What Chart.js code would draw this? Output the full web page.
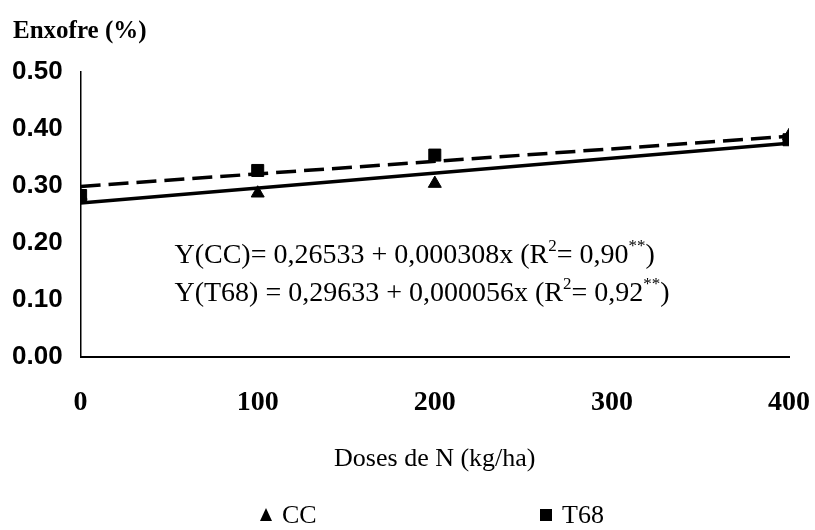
<!DOCTYPE html>
<html>
<head>
<meta charset="utf-8">
<script src="https://cdn.jsdelivr.net/npm/chart.js@4"></script>
<style>
  html, body { margin: 0; padding: 0; background: #fff; }
  #wrap { width: 815px; height: 530px; position: relative; }
</style>
</head>
<body>
<div id="wrap"><canvas id="enxChart"></canvas></div>
<script>
// Doses de N (kg/ha)
const doses = [0, 100, 200, 400];
// teor de enxofre
const ccValues = [0.283, 0.287, 0.304, 0.388];
const t68Values = [0.283, 0.327, 0.354, 0.381];
// retas ajustadas (extremos)
const fitX = [0, 400];
const ccFit = [0.270, 0.375];
const t68Fit = [0.299, 0.387];
const xTicks = [0, 100, 200, 300, 400];
const yTitle = 'Enxofre (%)';
const eqLines = [
  ['Y(CC)= 0,26533 + 0,000308x (R', '2', '= 0,90', '**', ')'],
  ['Y(T68) = 0,29633 + 0,000056x (R', '2', '= 0,92', '**', ')'],
];
const legendItems = [
  { label: 'CC', style: 'triangle' },
  { label: 'T68', style: 'rect' },
];

const serif = '"Liberation Serif", "Times New Roman", serif';
const sans = '"Liberation Sans", Arial, sans-serif';

const toPts = (xs, ys) => xs.map((x, i) => ({ x: x, y: ys[i] }));

const textPlugin = {
  id: 'extraText',
  afterDraw(chart) {
    const ctx = chart.ctx;
    const xs = chart.scales.x, ys = chart.scales.y;
    ctx.save();
    ctx.fillStyle = '#000';
    ctx.textBaseline = 'alphabetic';
    // titulo do eixo y, horizontal no canto
    ctx.font = 'bold 25px ' + serif;
    ctx.fillText(yTitle, 13, 38);
    // equacoes
    const base = [0.1636, 0.0972];
    eqLines.forEach((parts, li) => {
      let px = xs.getPixelForValue(53);
      const py = ys.getPixelForValue(base[li]);
      parts.forEach((p, k) => {
        const sup = k % 2 === 1;
        ctx.font = (sup ? '17px ' : '28px ') + serif;
        ctx.fillText(p, px, sup ? py - 12 : py);
        px += ctx.measureText(p).width;
      });
    });
    // legenda
    const lx = [266, 546];
    ctx.font = '26px ' + serif;
    legendItems.forEach((it, i) => {
      const cx = lx[i], cy = 515;
      ctx.beginPath();
      if (it.style === 'triangle') {
        ctx.moveTo(cx, cy - 7);
        ctx.lineTo(cx + 6, cy + 6);
        ctx.lineTo(cx - 6, cy + 6);
        ctx.closePath();
        ctx.fill();
      } else {
        ctx.fillRect(cx - 6, cy - 6, 12, 12);
      }
      ctx.fillText(it.label, cx + 16, cy + 8);
    });
    ctx.restore();
  }
};

new Chart(document.getElementById('enxChart'), {
  type: 'scatter',
  data: {
    datasets: [
      {
        label: 'CC (reta)',
        type: 'line',
        data: toPts(fitX, ccFit),
        borderColor: '#000',
        borderWidth: 3.5,
        pointRadius: 0,
        fill: false,
      },
      {
        label: 'T68 (reta)',
        type: 'line',
        data: toPts(fitX, t68Fit),
        borderColor: '#000',
        borderWidth: 3.5,
        borderDash: [20, 8],
        pointRadius: 0,
        fill: false,
      },
      {
        label: 'T68',
        data: toPts(doses, t68Values),
        pointStyle: 'rect',
        pointRadius: 8.5,
        backgroundColor: '#000',
        borderColor: '#000',
      },
      {
        label: 'CC',
        data: toPts(doses, ccValues),
        pointStyle: 'triangle',
        pointRadius: 7.5,
        backgroundColor: '#000',
        borderColor: '#000',
      },
    ],
  },
  options: {
    responsive: true,
    maintainAspectRatio: false,
    animation: false,
    layout: {
      padding: { left: 2, right: -5, top: 72, bottom: 51 },
    },
    plugins: {
      legend: { display: false },
      tooltip: { enabled: false },
      title: { display: false },
    },
    scales: {
      x: {
        type: 'linear',
        min: 0,
        max: 400,
        afterBuildTicks: axis => { axis.ticks = xTicks.map(v => ({ value: v })); },
        grid: { display: false, drawTicks: true, tickLength: 8, color: '#000' },
        border: { color: '#000', width: 2 },
        ticks: {
          color: '#000',
          padding: 5,
          font: { family: serif, size: 28, weight: 'bold', lineHeight: 2.4 },
        },
        title: {
          display: true,
          text: 'Doses de N (kg/ha)',
          color: '#000',
          font: { family: serif, size: 26 },
          padding: { top: 2 },
        },
      },
      y: {
        min: 0,
        max: 0.5,
        ticks: {
          stepSize: 0.1,
          color: '#000',
          padding: 10,
          font: { family: sans, size: 26, weight: 'bold' },
          callback: v => v.toFixed(2),
        },
        grid: { display: false, drawTicks: true, tickLength: 8, color: '#000' },
        border: { color: '#000', width: 1.5 },
      },
    },
  },
  plugins: [textPlugin],
});
</script>
</body>
</html>
